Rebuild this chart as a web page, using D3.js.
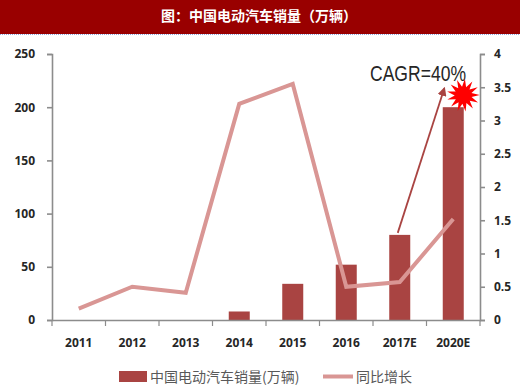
<!DOCTYPE html>
<html>
<head>
<meta charset="utf-8">
<script src="https://cdn.jsdelivr.net/npm/d3@7"></script>
<style>
  html, body { margin: 0; padding: 0; background: #fff; }
  svg { display: block; }
  text { font-family: "Noto Sans CJK SC", "Liberation Sans", sans-serif; }
</style>
</head>
<body>
<svg id="chart" width="520" height="390"></svg>
<script>
const categories = ["2011", "2012", "2013", "2014", "2015", "2016", "2017E", "2020E"];
const salesValues = [0, 0, 0, 8, 34, 52, 80, 200];
const growthValues = [0.17, 0.5, 0.41, 3.25, 3.55, 0.5, 0.57, 1.52];
const leftTicks = [0, 50, 100, 150, 200, 250];
const rightTicks = [0, 0.5, 1, 1.5, 2, 2.5, 3, 3.5, 4];
const chartTitle = "图：中国电动汽车销量（万辆）";
const salesName = "中国电动汽车销量(万辆)";
const growthName = "同比增长";

const barColor = "#a94442";
const lineColor = "#d99694";
const axisColor = "#8c8c8c";
const textColor = "#262626";

const svg = d3.select("#chart");
const plot = { left: 52, right: 480, top: 54, bottom: 320 };

/* scales */
const x = d3.scaleBand().domain(categories).range([plot.left, plot.right]);
const yLeft = d3.scaleLinear().domain([0, 250]).range([plot.bottom, plot.top]);
const yRight = d3.scaleLinear().domain([0, 4]).range([plot.bottom, plot.top]);
const center = c => x(c) + x.bandwidth() / 2;

/* title banner */
svg.append("rect").attr("width", 520).attr("height", 34).attr("fill", "#990000");
svg.append("line")
    .attr("x1", 0).attr("x2", 520).attr("y1", 34.5).attr("y2", 34.5)
    .attr("stroke", "#8fa8e0").attr("stroke-dasharray", "1 1");
svg.append("text")
    .attr("x", 259).attr("y", 21)
    .attr("text-anchor", "middle")
    .attr("fill", "#fff")
    .style("font-size", "14px")
    .style("font-weight", "700")
    .text(chartTitle);

/* bars */
svg.selectAll(".bar").data(salesValues).enter()
    .append("rect")
    .attr("class", "bar")
    .attr("x", (d, i) => center(categories[i]) - 10.5)
    .attr("width", 21)
    .attr("y", d => yLeft(d))
    .attr("height", d => yLeft(0) - yLeft(d))
    .attr("fill", barColor);

/* axes */
function styleAxis(g) {
    g.selectAll("path, line").attr("stroke", axisColor).attr("stroke-width", 1.6);
    g.selectAll("text")
        .attr("fill", textColor)
        .style("font-family", "'Open Sans', sans-serif")
        .style("font-size", "12px")
        .style("font-weight", "700");
}

svg.append("g")
    .attr("transform", `translate(${plot.left},0)`)
    .call(d3.axisLeft(yLeft).tickValues(leftTicks).tickSize(5).tickPadding(12))
    .call(styleAxis);

svg.append("g")
    .attr("transform", `translate(${plot.right},0)`)
    .call(d3.axisRight(yRight).tickValues(rightTicks).tickFormat(d => d).tickSize(5).tickPadding(9))
    .call(styleAxis);

const xAxis = svg.append("g")
    .attr("transform", `translate(0,${plot.bottom})`)
    .call(d3.axisBottom(x).tickSize(0).tickPadding(18))
    .call(styleAxis);
xAxis.selectAll(".edge").data(categories.concat("end")).enter()
    .append("line")
    .attr("class", "edge")
    .attr("x1", (d, i) => plot.left + i * x.bandwidth())
    .attr("x2", (d, i) => plot.left + i * x.bandwidth())
    .attr("y1", 0).attr("y2", 6)
    .attr("stroke", axisColor).attr("stroke-width", 1.2);

/* growth line */
const growthLine = d3.line()
    .x((d, i) => center(categories[i]))
    .y(d => yRight(d));
svg.append("path")
    .datum(growthValues)
    .attr("d", growthLine)
    .attr("fill", "none")
    .attr("stroke", lineColor)
    .attr("stroke-width", 4)
    .attr("stroke-linejoin", "miter");

/* CAGR arrow, from top of the 2017E bar towards the label */
svg.append("defs").append("marker")
    .attr("id", "arrow")
    .attr("viewBox", "0 0 10 10")
    .attr("refX", 8).attr("refY", 5)
    .attr("markerWidth", 9).attr("markerHeight", 9)
    .attr("markerUnits", "userSpaceOnUse")
    .attr("orient", "auto")
    .append("path")
    .attr("d", "M0,0L10,5L0,10Z")
    .attr("fill", barColor);
svg.append("line")
    .attr("x1", center("2017E") - 2)
    .attr("y1", yLeft(80) - 2)
    .attr("x2", center("2020E") - 9)
    .attr("y2", yRight(3.48))
    .attr("stroke", barColor)
    .attr("stroke-width", 1.8)
    .attr("marker-end", "url(#arrow)");

svg.append("text")
    .attr("x", 370).attr("y", 81)
    .attr("fill", textColor)
    .style("font-family", "'Liberation Sans', sans-serif")
    .style("font-size", "22px")
    .attr("textLength", 96)
    .attr("lengthAdjust", "spacingAndGlyphs")
    .text("CAGR=40%");

/* red burst */
const burstPoints = d3.range(26).map(i => {
    const a = i / 26 * 2 * Math.PI + 0.1;
    const r = i % 2 === 0 ? 16.5 : 8.5;
    return [r * Math.sin(a), -r * Math.cos(a)];
});
svg.append("path")
    .attr("transform", `translate(${center("2020E") + 10},${yRight(3.38)})`)
    .attr("d", d3.line()(burstPoints) + "Z")
    .attr("fill", "#ff0000");

/* legend */
const legend = svg.append("g").attr("transform", "translate(0,377)");
legend.append("rect")
    .attr("x", 119).attr("y", -6).attr("width", 28).attr("height", 11)
    .attr("fill", barColor);
legend.append("text")
    .attr("x", 150).attr("y", 5)
    .attr("fill", "#595959")
    .style("font-size", "14px")
    .text(salesName);
legend.append("line")
    .attr("x1", 323).attr("x2", 353).attr("y1", -0.5).attr("y2", -0.5)
    .attr("stroke", lineColor).attr("stroke-width", 4);
legend.append("text")
    .attr("x", 356).attr("y", 5)
    .attr("fill", "#595959")
    .style("font-size", "14px")
    .text(growthName);
</script>
</body>
</html>
